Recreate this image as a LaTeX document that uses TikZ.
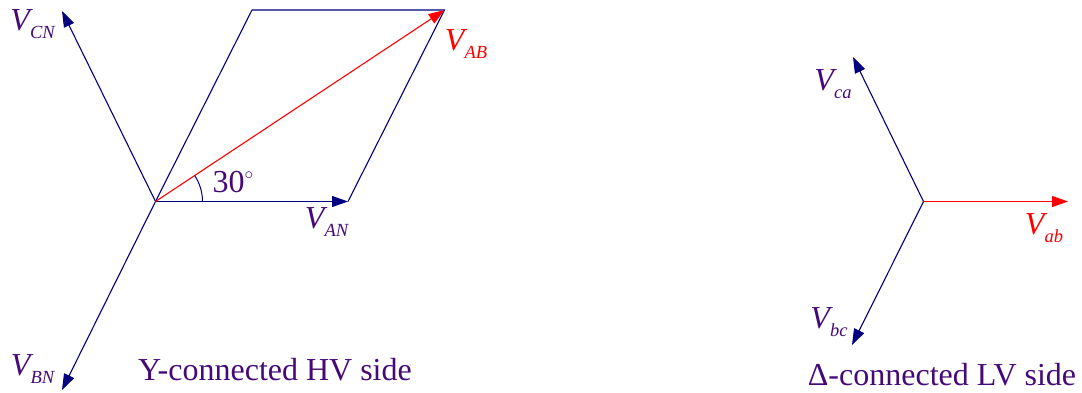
\documentclass[tikz,border=0pt]{standalone}
\usepackage{fontspec}
\setmainfont{Liberation Serif}
\usetikzlibrary{arrows.meta}
\definecolor{navyc}{RGB}{0,0,128}
\definecolor{txtc}{RGB}{70,10,120}
\definecolor{redc}{RGB}{255,0,0}
\newcommand{\phs}[2]{\textit{#1}\kern-3pt\raisebox{-0.27em}{\fontsize{18.5}{18.5}\selectfont\textit{#2}}}
\begin{document}
\begin{tikzpicture}[x=1pt,y=-1pt,
  vec/.style={navyc, line width=1.1pt, -{Triangle[length=16pt,width=11pt]}},
  rvec/.style={redc, line width=1.1pt, -{Triangle[length=16pt,width=11pt]}},
  side/.style={navyc, line width=1.1pt},
  lbl/.style={txtc, font=\fontsize{32}{32}\selectfont, inner sep=0pt},
  rlbl/.style={redc, font=\fontsize{32}{32}\selectfont, inner sep=0pt}]
\useasboundingbox (0,0) rectangle (1082,393);
% left (Y side)
\coordinate (O) at (155.5,201.5);
\coordinate (AN) at (348,201.5);
\coordinate (TL) at (252,10);
\coordinate (TR) at (444.5,10);
\coordinate (CN) at (62,11);
\coordinate (BN) at (62,390);
\draw[side] (O) -- (TL) -- (TR) -- (AN);
\draw[vec] (O) -- (AN);
\draw[vec] (O) -- (CN);
\draw[vec] (O) -- (BN);
\draw[rvec] (O) -- (TR);
\draw[navyc, line width=1pt] ([shift={(47,0)}]O) arc[start angle=0, end angle=-33.5, radius=47];
\node[lbl] (lCN) at (33,24) {\phs{V}{CN}};
\node[rlbl] (lAB) at (466,44) {\phs{V}{AB}};
\node[lbl] (lAN) at (327,222) {\phs{V}{AN}};
\node[lbl] (lBN) at (33,369) {\phs{V}{BN}};
\node[lbl] (ang) at (233,182) {30\raisebox{0.42em}{\fontsize{17}{17}\selectfont$\circ$}};
\node[lbl] (capY) at (275,370) {Y-connected HV side};
% right (Delta side)
\coordinate (P) at (923.5,201.5);
\coordinate (ab) at (1068,201.5);
\coordinate (ca) at (853,57);
\coordinate (bc) at (852,345);
\draw[rvec] (P) -- (ab);
\draw[vec] (P) -- (ca);
\draw[vec] (P) -- (bc);
\node[lbl] (lca) at (833,84) {\phs{V}{ca}};
\node[rlbl] (lab) at (1044,228) {\phs{V}{ab}};
\node[lbl] (lbc) at (829,322) {\phs{V}{bc}};
\node[lbl] (capD) at (942,375) {Δ-connected LV side};
\end{tikzpicture}
\end{document}
